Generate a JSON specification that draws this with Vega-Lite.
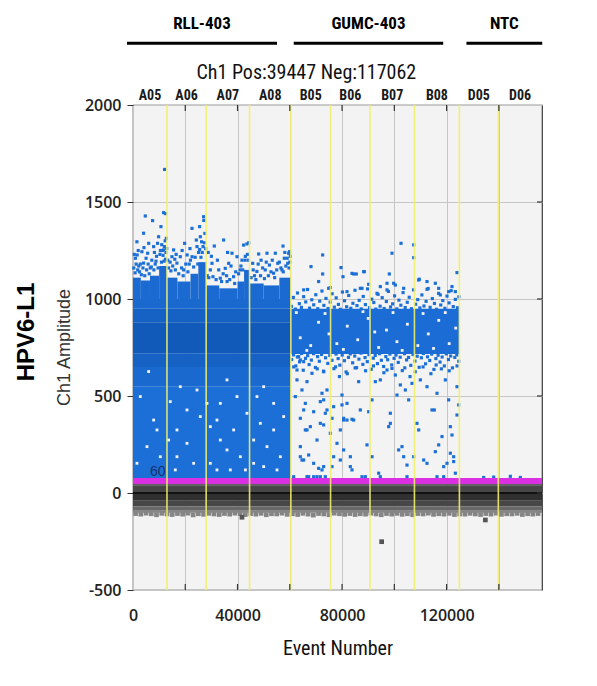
{
"$schema": "https://vega.github.io/schema/vega-lite/v6.json",
"width": 409, "height": 485,
"autosize": {"type": "none"},
"padding": {"left": 133, "top": 105, "right": 55, "bottom": 96},
"background": "white",
"config": {"view": {"fill": "#f3f3f3", "stroke": "#3a3a3a", "strokeWidth": 1.2}, "font": "Liberation Sans"},
"datasets": {
"wells": [
{"well": "A05", "start": 0, "end": 13000, "mid": 6500},
{"well": "A06", "start": 13000, "end": 28000, "mid": 20500},
{"well": "A07", "start": 28000, "end": 44600, "mid": 36300},
{"well": "A08", "start": 44600, "end": 60400, "mid": 52500},
{"well": "B05", "start": 60400, "end": 75600, "mid": 68000},
{"well": "B06", "start": 75600, "end": 90700, "mid": 83150},
{"well": "B07", "start": 90700, "end": 107700, "mid": 99200},
{"well": "B08", "start": 107700, "end": 124900, "mid": 116300},
{"well": "D05", "start": 124900, "end": 139800, "mid": 132350},
{"well": "D06", "start": 139800, "end": 156509, "mid": 148150}
],
"groups": [
{"group": "RLL-403", "start": -2300, "end": 55100, "mid": 26400},
{"group": "GUMC-403", "start": 61500, "end": 118700, "mid": 90100},
{"group": "NTC", "start": 127600, "end": 156600, "mid": 142100}
],
"xticks": [{"t": 20000}, {"t": 40000}, {"t": 60000}, {"t": 80000}, {"t": 100000}, {"t": 120000}, {"t": 140000}],
"yticks": [{"v": 0}, {"v": 500}, {"v": 1000}, {"v": 1500}],
"neg": [
{"y0": 40, "y1": 60, "tone": "n1"},
{"y0": 5, "y1": 40, "tone": "n2"},
{"y0": -40, "y1": -5, "tone": "n3"},
{"y0": -70, "y1": -40, "tone": "n4"},
{"y0": -92, "y1": -70, "tone": "n5"},
{"y0": -102, "y1": -92, "tone": "n6"},
{"y0": -5, "y1": 5, "tone": "n0"}
],
"bands": [
{"x0": 0, "x1": 60400, "y0": 60, "y1": 550, "tone": "lo"},
{"x0": 0, "x1": 60400, "y0": 550, "y1": 650, "tone": "t1"},
{"x0": 0, "x1": 60400, "y0": 650, "y1": 720, "tone": "t2"},
{"x0": 0, "x1": 60400, "y0": 720, "y1": 880, "tone": "dark"},
{"x0": 0, "x1": 60400, "y0": 880, "y1": 950, "tone": "t2"},
{"x0": 0, "x1": 60400, "y0": 950, "y1": 1000, "tone": "t1"},
{"x0": 0, "x1": 3000, "y0": 1000, "y1": 1110, "tone": "top"},
{"x0": 3000, "x1": 6500, "y0": 1000, "y1": 1095, "tone": "top"},
{"x0": 6500, "x1": 10000, "y0": 1000, "y1": 1120, "tone": "top"},
{"x0": 10000, "x1": 13000, "y0": 1000, "y1": 1170, "tone": "top"},
{"x0": 13000, "x1": 17000, "y0": 1000, "y1": 1110, "tone": "top"},
{"x0": 17000, "x1": 22000, "y0": 1000, "y1": 1090, "tone": "top"},
{"x0": 22000, "x1": 25000, "y0": 1000, "y1": 1130, "tone": "top"},
{"x0": 25000, "x1": 28000, "y0": 1000, "y1": 1190, "tone": "top"},
{"x0": 28000, "x1": 33000, "y0": 1000, "y1": 1070, "tone": "top"},
{"x0": 33000, "x1": 40000, "y0": 1000, "y1": 1055, "tone": "top"},
{"x0": 40000, "x1": 42500, "y0": 1000, "y1": 1090, "tone": "top"},
{"x0": 42500, "x1": 44600, "y0": 1000, "y1": 1150, "tone": "top"},
{"x0": 44600, "x1": 50000, "y0": 1000, "y1": 1080, "tone": "top"},
{"x0": 50000, "x1": 56000, "y0": 1000, "y1": 1070, "tone": "top"},
{"x0": 56000, "x1": 60400, "y0": 1000, "y1": 1110, "tone": "top"},
{"x0": 60400, "x1": 124900, "y0": 716, "y1": 950, "tone": "b"}
],
"gaps": [
{"ev": 5984, "amp": 626}, {"ev": 2795, "amp": 497}, {"ev": 14276, "amp": 471}, {"ev": 9174, "amp": 325}, {"ev": 13639, "amp": 273},
{"ev": 16828, "amp": 325}, {"ev": 20655, "amp": 256}, {"ev": 10450, "amp": 187}, {"ev": 16191, "amp": 119}, {"ev": 24484, "amp": 531},
{"ev": 25760, "amp": 394}, {"ev": 29587, "amp": 342}, {"ev": 32138, "amp": 376}, {"ev": 33414, "amp": 273}, {"ev": 35965, "amp": 222},
{"ev": 38516, "amp": 325}, {"ev": 41068, "amp": 187}, {"ev": 43619, "amp": 411}, {"ev": 46170, "amp": 273}, {"ev": 48722, "amp": 359},
{"ev": 51273, "amp": 239}, {"ev": 53824, "amp": 325}, {"ev": 56376, "amp": 187}, {"ev": 50000, "amp": 136}, {"ev": 29587, "amp": 153},
{"ev": 37238, "amp": 119}, {"ev": 1519, "amp": 153}, {"ev": 5347, "amp": 239}, {"ev": 23206, "amp": 153}, {"ev": 28310, "amp": 462},
{"ev": 39791, "amp": 497}, {"ev": 47446, "amp": 497}, {"ev": 53824, "amp": 462}, {"ev": 57652, "amp": 394}, {"ev": 20655, "amp": 428},
{"ev": 7900, "amp": 376}, {"ev": 16828, "amp": 187}, {"ev": 32138, "amp": 119}, {"ev": 43020, "amp": 119}, {"ev": 46170, "amp": 153},
{"ev": 55100, "amp": 119}, {"ev": 18100, "amp": 548}, {"ev": 35965, "amp": 583}, {"ev": 50000, "amp": 548}, {"ev": 33414, "amp": 462},
{"ev": 64000, "amp": 800}, {"ev": 68000, "amp": 760}, {"ev": 71000, "amp": 880}, {"ev": 75000, "amp": 820}, {"ev": 78000, "amp": 770},
{"ev": 82000, "amp": 860}, {"ev": 86000, "amp": 790}, {"ev": 90000, "amp": 900}, {"ev": 94000, "amp": 750}, {"ev": 97000, "amp": 840},
{"ev": 101000, "amp": 780}, {"ev": 105000, "amp": 870}, {"ev": 109000, "amp": 760}, {"ev": 113000, "amp": 820}, {"ev": 117000, "amp": 890},
{"ev": 121000, "amp": 770}, {"ev": 123500, "amp": 850}, {"ev": 62500, "amp": 930}, {"ev": 66500, "amp": 735}, {"ev": 73500, "amp": 925},
{"ev": 80500, "amp": 740}, {"ev": 88000, "amp": 935}, {"ev": 92500, "amp": 830}, {"ev": 99500, "amp": 930}, {"ev": 103000, "amp": 735},
{"ev": 111000, "amp": 925}, {"ev": 115000, "amp": 745}, {"ev": 119500, "amp": 930}
],
"pos": [
{"ev": 300, "amp": 1160}, {"ev": 900, "amp": 1210}, {"ev": 1500, "amp": 1295}, {"ev": 1600, "amp": 1227}, {"ev": 2200, "amp": 1170},
{"ev": 2800, "amp": 1180}, {"ev": 3400, "amp": 1244}, {"ev": 4050, "amp": 1339}, {"ev": 4050, "amp": 1185}, {"ev": 4700, "amp": 1428},
{"ev": 5200, "amp": 1150}, {"ev": 5600, "amp": 1236}, {"ev": 6000, "amp": 1287}, {"ev": 6600, "amp": 1160}, {"ev": 7200, "amp": 1200},
{"ev": 7500, "amp": 1404}, {"ev": 7900, "amp": 1270}, {"ev": 8500, "amp": 1180}, {"ev": 9000, "amp": 1220}, {"ev": 9400, "amp": 1287},
{"ev": 9800, "amp": 1321}, {"ev": 10300, "amp": 1230}, {"ev": 10700, "amp": 1373}, {"ev": 11200, "amp": 1250}, {"ev": 11700, "amp": 1445},
{"ev": 11700, "amp": 1253}, {"ev": 12080, "amp": 1668}, {"ev": 12300, "amp": 1300}, {"ev": 12500, "amp": 1440}, {"ev": 12750, "amp": 1313},
{"ev": 12600, "amp": 1240}, {"ev": 11000, "amp": 1280}, {"ev": 2500, "amp": 1140}, {"ev": 500, "amp": 1230},
{"ev": 800, "amp": 1135}, {"ev": 1800, "amp": 1150}, {"ev": 3200, "amp": 1125}, {"ev": 3800, "amp": 1160}, {"ev": 4500, "amp": 1120},
{"ev": 5800, "amp": 1180}, {"ev": 6200, "amp": 1130}, {"ev": 7000, "amp": 1165}, {"ev": 8000, "amp": 1150}, {"ev": 8800, "amp": 1195},
{"ev": 9600, "amp": 1160}, {"ev": 10500, "amp": 1250}, {"ev": 11500, "amp": 1225}, {"ev": 12000, "amp": 1270}, {"ev": 12900, "amp": 1260},
{"ev": 1200, "amp": 1180}, {"ev": 2000, "amp": 1250}, {"ev": 5000, "amp": 1210}, {"ev": 8200, "amp": 1240}, {"ev": 4200, "amp": 1265},
{"ev": 10900, "amp": 1190}, {"ev": 11900, "amp": 1195}, {"ev": 12400, "amp": 1205},
{"ev": 19750, "amp": 1287}, {"ev": 22580, "amp": 1364}, {"ev": 25490, "amp": 1373}, {"ev": 27020, "amp": 1424}, {"ev": 27100, "amp": 1405},
{"ev": 25760, "amp": 1321}, {"ev": 24230, "amp": 1304}, {"ev": 26250, "amp": 1295}, {"ev": 15540, "amp": 1253}, {"ev": 14900, "amp": 1218},
{"ev": 16800, "amp": 1185}, {"ev": 18100, "amp": 1218}, {"ev": 20700, "amp": 1227}, {"ev": 22600, "amp": 1218}, {"ev": 24500, "amp": 1270},
{"ev": 27500, "amp": 1338}, {"ev": 16200, "amp": 1150}, {"ev": 19400, "amp": 1150}, {"ev": 23200, "amp": 1165}, {"ev": 25100, "amp": 1240},
{"ev": 13600, "amp": 1160}, {"ev": 21500, "amp": 1180}, {"ev": 26800, "amp": 1270}, {"ev": 14200, "amp": 1190},
{"ev": 13300, "amp": 1200}, {"ev": 14500, "amp": 1145}, {"ev": 15200, "amp": 1170}, {"ev": 16000, "amp": 1205}, {"ev": 17500, "amp": 1130},
{"ev": 18600, "amp": 1160}, {"ev": 19200, "amp": 1120}, {"ev": 20200, "amp": 1180}, {"ev": 21000, "amp": 1140}, {"ev": 22000, "amp": 1200},
{"ev": 23800, "amp": 1215}, {"ev": 24800, "amp": 1180}, {"ev": 25500, "amp": 1255}, {"ev": 26500, "amp": 1240}, {"ev": 27300, "amp": 1290},
{"ev": 27800, "amp": 1260}, {"ev": 18800, "amp": 1250}, {"ev": 21800, "amp": 1260}, {"ev": 16500, "amp": 1230}, {"ev": 26000, "amp": 1215},
{"ev": 34680, "amp": 1304}, {"ev": 31110, "amp": 1273}, {"ev": 37890, "amp": 1236}, {"ev": 42330, "amp": 1278}, {"ev": 43600, "amp": 1284},
{"ev": 44300, "amp": 1290}, {"ev": 30230, "amp": 1184}, {"ev": 32800, "amp": 1150}, {"ev": 36600, "amp": 1184}, {"ev": 39800, "amp": 1218},
{"ev": 41700, "amp": 1200}, {"ev": 33400, "amp": 1107}, {"ev": 38500, "amp": 1115}, {"ev": 30600, "amp": 1115}, {"ev": 35300, "amp": 1158},
{"ev": 41000, "amp": 1150}, {"ev": 29000, "amp": 1110}, {"ev": 28800, "amp": 1240}, {"ev": 36000, "amp": 1090}, {"ev": 43000, "amp": 1220},
{"ev": 28400, "amp": 1120}, {"ev": 29600, "amp": 1150}, {"ev": 31800, "amp": 1100}, {"ev": 32300, "amp": 1200}, {"ev": 33900, "amp": 1090},
{"ev": 34500, "amp": 1130}, {"ev": 35800, "amp": 1120}, {"ev": 37000, "amp": 1100}, {"ev": 37500, "amp": 1170}, {"ev": 38900, "amp": 1080},
{"ev": 39300, "amp": 1140}, {"ev": 40400, "amp": 1130}, {"ev": 41300, "amp": 1170}, {"ev": 42000, "amp": 1150}, {"ev": 42900, "amp": 1200},
{"ev": 43800, "amp": 1230}, {"ev": 44200, "amp": 1200}, {"ev": 30000, "amp": 1220}, {"ev": 36200, "amp": 1240},
{"ev": 48080, "amp": 1232}, {"ev": 51270, "amp": 1236}, {"ev": 54460, "amp": 1236}, {"ev": 57400, "amp": 1273}, {"ev": 59570, "amp": 1236},
{"ev": 59900, "amp": 1244}, {"ev": 45800, "amp": 1184}, {"ev": 49000, "amp": 1200}, {"ev": 52200, "amp": 1175}, {"ev": 55400, "amp": 1184},
{"ev": 57900, "amp": 1210}, {"ev": 47400, "amp": 1142}, {"ev": 50600, "amp": 1150}, {"ev": 53800, "amp": 1133}, {"ev": 57000, "amp": 1150},
{"ev": 59200, "amp": 1184}, {"ev": 46500, "amp": 1120}, {"ev": 60000, "amp": 1190}, {"ev": 58500, "amp": 1170},
{"ev": 45200, "amp": 1110}, {"ev": 46000, "amp": 1150}, {"ev": 47000, "amp": 1100}, {"ev": 47900, "amp": 1180}, {"ev": 48800, "amp": 1120},
{"ev": 49600, "amp": 1160}, {"ev": 50300, "amp": 1105}, {"ev": 51000, "amp": 1190}, {"ev": 51800, "amp": 1120}, {"ev": 52800, "amp": 1140},
{"ev": 53300, "amp": 1200}, {"ev": 54200, "amp": 1110}, {"ev": 55000, "amp": 1150}, {"ev": 56000, "amp": 1190}, {"ev": 56600, "amp": 1160},
{"ev": 57500, "amp": 1140}, {"ev": 58100, "amp": 1240}, {"ev": 59000, "amp": 1210}, {"ev": 59700, "amp": 1160}, {"ev": 60200, "amp": 1220},
{"ev": 63388, "amp": 703}, {"ev": 65302, "amp": 677}, {"ev": 68491, "amp": 617}, {"ev": 62751, "amp": 583}, {"ev": 66578, "amp": 574},
{"ev": 64664, "amp": 531}, {"ev": 72318, "amp": 514}, {"ev": 74232, "amp": 531}, {"ev": 65940, "amp": 462}, {"ev": 69129, "amp": 419},
{"ev": 71680, "amp": 471}, {"ev": 73594, "amp": 411}, {"ev": 64026, "amp": 385}, {"ev": 67853, "amp": 342}, {"ev": 65940, "amp": 325},
{"ev": 72956, "amp": 351}, {"ev": 76783, "amp": 445}, {"ev": 79972, "amp": 505}, {"ev": 79972, "amp": 454}, {"ev": 76145, "amp": 385},
{"ev": 80610, "amp": 385}, {"ev": 81886, "amp": 376}, {"ev": 83799, "amp": 380}, {"ev": 86989, "amp": 428}, {"ev": 90178, "amp": 419},
{"ev": 86351, "amp": 574}, {"ev": 91454, "amp": 480}, {"ev": 92730, "amp": 574}, {"ev": 94643, "amp": 583}, {"ev": 97195, "amp": 634},
{"ev": 98470, "amp": 411}, {"ev": 97832, "amp": 342}, {"ev": 100384, "amp": 608}, {"ev": 101022, "amp": 505}, {"ev": 102297, "amp": 557},
{"ev": 102935, "amp": 239}, {"ev": 101659, "amp": 222}, {"ev": 104211, "amp": 531}, {"ev": 105487, "amp": 480}, {"ev": 106763, "amp": 565},
{"ev": 108676, "amp": 359}, {"ev": 109314, "amp": 325}, {"ev": 109952, "amp": 583}, {"ev": 112503, "amp": 548}, {"ev": 114417, "amp": 428},
{"ev": 115310, "amp": 428}, {"ev": 116330, "amp": 514}, {"ev": 118244, "amp": 291}, {"ev": 119520, "amp": 583}, {"ev": 120796, "amp": 480},
{"ev": 121433, "amp": 342}, {"ev": 121433, "amp": 205}, {"ev": 122071, "amp": 299}, {"ev": 122709, "amp": 187}, {"ev": 123985, "amp": 402},
{"ev": 124622, "amp": 454}, {"ev": 123985, "amp": 548}, {"ev": 64664, "amp": 170}, {"ev": 65302, "amp": 170}, {"ev": 67216, "amp": 196},
{"ev": 71043, "amp": 127}, {"ev": 72318, "amp": 119}, {"ev": 76145, "amp": 136}, {"ev": 76783, "amp": 187}, {"ev": 79334, "amp": 325},
{"ev": 83161, "amp": 136}, {"ev": 83799, "amp": 119}, {"ev": 89540, "amp": 248}, {"ev": 91454, "amp": 187}, {"ev": 94006, "amp": 102},
{"ev": 98470, "amp": 359}, {"ev": 103573, "amp": 187}, {"ev": 104849, "amp": 144}, {"ev": 107400, "amp": 187}, {"ev": 111227, "amp": 170},
{"ev": 112503, "amp": 153}, {"ev": 115692, "amp": 213}, {"ev": 116967, "amp": 248}, {"ev": 118881, "amp": 136}, {"ev": 120157, "amp": 153},
{"ev": 122709, "amp": 162}, {"ev": 123347, "amp": 102}, {"ev": 61475, "amp": 84}, {"ev": 66578, "amp": 84}, {"ev": 70405, "amp": 84},
{"ev": 87627, "amp": 84}, {"ev": 88902, "amp": 84}, {"ev": 94643, "amp": 84}, {"ev": 104849, "amp": 84}, {"ev": 116330, "amp": 84},
{"ev": 118881, "amp": 84}, {"ev": 65304, "amp": 428}, {"ev": 72958, "amp": 480}, {"ev": 74234, "amp": 428}, {"ev": 71683, "amp": 359},
{"ev": 66580, "amp": 325}, {"ev": 70406, "amp": 273}, {"ev": 64028, "amp": 239}, {"ev": 75510, "amp": 308}, {"ev": 78061, "amp": 256},
{"ev": 80612, "amp": 222}, {"ev": 79337, "amp": 170}, {"ev": 64028, "amp": 187}, {"ev": 69131, "amp": 153}, {"ev": 72958, "amp": 136},
{"ev": 83164, "amp": 187}, {"ev": 84440, "amp": 376}, {"ev": 80612, "amp": 376}, {"ev": 81888, "amp": 462}, {"ev": 62753, "amp": 634},
{"ev": 64028, "amp": 686}, {"ev": 62115, "amp": 497}, {"ev": 67218, "amp": 84}, {"ev": 69131, "amp": 84}, {"ev": 71683, "amp": 84},
{"ev": 73596, "amp": 84},
{"ev": 70500, "amp": 640}, {"ev": 73000, "amp": 625}, {"ev": 77500, "amp": 650}, {"ev": 82000, "amp": 615}, {"ev": 85000, "amp": 645},
{"ev": 89000, "amp": 630}, {"ev": 92000, "amp": 655}, {"ev": 96000, "amp": 620}, {"ev": 104000, "amp": 645}, {"ev": 108000, "amp": 625},
{"ev": 111000, "amp": 650}, {"ev": 114000, "amp": 615}, {"ev": 118000, "amp": 640}, {"ev": 121000, "amp": 630}, {"ev": 124000, "amp": 655},
{"ev": 61500, "amp": 650}, {"ev": 79000, "amp": 600}, {"ev": 99000, "amp": 660}, {"ev": 106000, "amp": 600}, {"ev": 116000, "amp": 660},
{"ev": 60700, "amp": 688}, {"ev": 61450, "amp": 712}, {"ev": 62300, "amp": 655}, {"ev": 62900, "amp": 701}, {"ev": 63750, "amp": 676},
{"ev": 64500, "amp": 719}, {"ev": 65150, "amp": 633}, {"ev": 66000, "amp": 694}, {"ev": 66850, "amp": 708}, {"ev": 67400, "amp": 662},
{"ev": 68250, "amp": 685}, {"ev": 69100, "amp": 718}, {"ev": 69800, "amp": 647}, {"ev": 70650, "amp": 703}, {"ev": 71300, "amp": 679},
{"ev": 72150, "amp": 714}, {"ev": 72900, "amp": 628}, {"ev": 73700, "amp": 697}, {"ev": 74550, "amp": 668}, {"ev": 75300, "amp": 709},
{"ev": 76150, "amp": 684}, {"ev": 76900, "amp": 641}, {"ev": 77700, "amp": 716}, {"ev": 78500, "amp": 693}, {"ev": 79150, "amp": 659},
{"ev": 80050, "amp": 711}, {"ev": 80900, "amp": 682}, {"ev": 81550, "amp": 624}, {"ev": 82450, "amp": 699}, {"ev": 83150, "amp": 717},
{"ev": 84050, "amp": 671}, {"ev": 84850, "amp": 706}, {"ev": 85550, "amp": 646}, {"ev": 86450, "amp": 690}, {"ev": 87250, "amp": 721},
{"ev": 87950, "amp": 663}, {"ev": 88800, "amp": 698}, {"ev": 89650, "amp": 677}, {"ev": 90300, "amp": 713}, {"ev": 91150, "amp": 638},
{"ev": 91950, "amp": 695}, {"ev": 92700, "amp": 709}, {"ev": 93550, "amp": 667}, {"ev": 94350, "amp": 718}, {"ev": 95050, "amp": 684},
{"ev": 95900, "amp": 652}, {"ev": 96750, "amp": 703}, {"ev": 97450, "amp": 687}, {"ev": 98300, "amp": 716}, {"ev": 99100, "amp": 642},
{"ev": 99900, "amp": 694}, {"ev": 100650, "amp": 711}, {"ev": 101500, "amp": 673}, {"ev": 102250, "amp": 700}, {"ev": 103050, "amp": 631},
{"ev": 103900, "amp": 718}, {"ev": 104700, "amp": 686}, {"ev": 105450, "amp": 699}, {"ev": 106300, "amp": 658}, {"ev": 107150, "amp": 714},
{"ev": 107900, "amp": 680}, {"ev": 108750, "amp": 705}, {"ev": 109500, "amp": 648}, {"ev": 110350, "amp": 697}, {"ev": 111100, "amp": 719},
{"ev": 111950, "amp": 666}, {"ev": 112700, "amp": 702}, {"ev": 113550, "amp": 683}, {"ev": 114300, "amp": 716}, {"ev": 115150, "amp": 637},
{"ev": 115900, "amp": 693}, {"ev": 116750, "amp": 710}, {"ev": 117500, "amp": 675}, {"ev": 118300, "amp": 701}, {"ev": 119150, "amp": 655},
{"ev": 119900, "amp": 717}, {"ev": 120700, "amp": 688}, {"ev": 121550, "amp": 706}, {"ev": 122250, "amp": 645}, {"ev": 123150, "amp": 699},
{"ev": 123900, "amp": 712}, {"ev": 124650, "amp": 679},
{"ev": 60600, "amp": 962}, {"ev": 61350, "amp": 1008}, {"ev": 62150, "amp": 948}, {"ev": 62950, "amp": 1031}, {"ev": 63650, "amp": 976},
{"ev": 64450, "amp": 957}, {"ev": 65300, "amp": 1012}, {"ev": 66100, "amp": 985}, {"ev": 66800, "amp": 1049}, {"ev": 67550, "amp": 953},
{"ev": 68400, "amp": 996}, {"ev": 69150, "amp": 970}, {"ev": 69950, "amp": 1022}, {"ev": 70700, "amp": 950}, {"ev": 71450, "amp": 989},
{"ev": 72300, "amp": 1041}, {"ev": 73050, "amp": 967}, {"ev": 73850, "amp": 1003}, {"ev": 74650, "amp": 951}, {"ev": 75450, "amp": 984},
{"ev": 76200, "amp": 1027}, {"ev": 77050, "amp": 958}, {"ev": 77750, "amp": 1006}, {"ev": 78600, "amp": 972}, {"ev": 79350, "amp": 947},
{"ev": 80150, "amp": 1036}, {"ev": 80950, "amp": 991}, {"ev": 81750, "amp": 960}, {"ev": 82550, "amp": 1018}, {"ev": 83350, "amp": 952},
{"ev": 84150, "amp": 978}, {"ev": 84950, "amp": 1045}, {"ev": 85700, "amp": 966}, {"ev": 86550, "amp": 993}, {"ev": 87350, "amp": 949},
{"ev": 88100, "amp": 1013}, {"ev": 88950, "amp": 971}, {"ev": 89750, "amp": 1052}, {"ev": 90500, "amp": 955}, {"ev": 91350, "amp": 999},
{"ev": 92150, "amp": 982}, {"ev": 92900, "amp": 948}, {"ev": 93750, "amp": 1024}, {"ev": 94550, "amp": 963}, {"ev": 95350, "amp": 1007},
{"ev": 96100, "amp": 951}, {"ev": 96950, "amp": 987}, {"ev": 97750, "amp": 1039}, {"ev": 98550, "amp": 959}, {"ev": 99350, "amp": 975},
{"ev": 100100, "amp": 1016}, {"ev": 100950, "amp": 949}, {"ev": 101750, "amp": 994}, {"ev": 102500, "amp": 968}, {"ev": 103350, "amp": 1033},
{"ev": 104150, "amp": 956}, {"ev": 104950, "amp": 983}, {"ev": 105700, "amp": 1009}, {"ev": 106550, "amp": 950}, {"ev": 107350, "amp": 1047},
{"ev": 108150, "amp": 973}, {"ev": 108950, "amp": 997}, {"ev": 109750, "amp": 954}, {"ev": 110550, "amp": 1021}, {"ev": 111350, "amp": 964},
{"ev": 112150, "amp": 988}, {"ev": 112950, "amp": 1054}, {"ev": 113700, "amp": 957}, {"ev": 114550, "amp": 1002}, {"ev": 115350, "amp": 977},
{"ev": 116150, "amp": 947}, {"ev": 116950, "amp": 1029}, {"ev": 117750, "amp": 969}, {"ev": 118550, "amp": 992}, {"ev": 119350, "amp": 952},
{"ev": 120150, "amp": 1015}, {"ev": 120950, "amp": 980}, {"ev": 121750, "amp": 1043}, {"ev": 122550, "amp": 961}, {"ev": 123350, "amp": 998},
{"ev": 124150, "amp": 955}, {"ev": 124700, "amp": 1011},
{"ev": 102554, "amp": 1287}, {"ev": 107400, "amp": 1279}, {"ev": 107400, "amp": 1213}, {"ev": 99108, "amp": 1236}, {"ev": 72573, "amp": 1227},
{"ev": 68109, "amp": 1167}, {"ev": 79590, "amp": 1162}, {"ev": 80356, "amp": 1115}, {"ev": 84438, "amp": 1129}, {"ev": 85459, "amp": 1129},
{"ev": 88520, "amp": 1141}, {"ev": 90178, "amp": 1076}, {"ev": 98087, "amp": 1129}, {"ev": 99746, "amp": 1081}, {"ev": 100384, "amp": 1072},
{"ev": 103573, "amp": 1055}, {"ev": 109569, "amp": 1102}, {"ev": 115692, "amp": 1081}, {"ev": 116968, "amp": 1055}, {"ev": 123985, "amp": 1136},
{"ev": 71043, "amp": 1090}, {"ev": 72573, "amp": 1129}, {"ev": 65302, "amp": 1047}, {"ev": 75508, "amp": 1059}, {"ev": 87627, "amp": 1055},
{"ev": 94643, "amp": 1064}, {"ev": 97195, "amp": 1047}, {"ev": 112503, "amp": 1050}, {"ev": 122071, "amp": 1064}, {"ev": 120796, "amp": 1038},
{"ev": 88265, "amp": 1141}, {"ev": 83800, "amp": 1132}, {"ev": 109314, "amp": 1098}, {"ev": 112503, "amp": 1090}, {"ev": 123347, "amp": 1038},
{"ev": 117605, "amp": 1021}, {"ev": 93367, "amp": 1029}, {"ev": 81886, "amp": 1038}, {"ev": 74870, "amp": 1055}, {"ev": 86989, "amp": 1055},
{"ev": 97195, "amp": 1081}, {"ev": 59816, "amp": 1236},
{"ev": 134190, "amp": 80}, {"ev": 138020, "amp": 82}, {"ev": 144400, "amp": 86}, {"ev": 148225, "amp": 80}
],
"negpts": [
{"ev": 1000, "amp": -106, "kind": "edge"}, {"ev": 3000, "amp": -109, "kind": "edge"}, {"ev": 5000, "amp": -104, "kind": "edge"},
{"ev": 7000, "amp": -107, "kind": "edge"}, {"ev": 9000, "amp": -112, "kind": "edge"}, {"ev": 11000, "amp": -105, "kind": "edge"},
{"ev": 13000, "amp": -108, "kind": "edge"}, {"ev": 15000, "amp": -111, "kind": "edge"}, {"ev": 17000, "amp": -106, "kind": "edge"},
{"ev": 19000, "amp": -109, "kind": "edge"}, {"ev": 21000, "amp": -104, "kind": "edge"}, {"ev": 23000, "amp": -113, "kind": "edge"},
{"ev": 25000, "amp": -107, "kind": "edge"}, {"ev": 27000, "amp": -110, "kind": "edge"}, {"ev": 29000, "amp": -105, "kind": "edge"},
{"ev": 31000, "amp": -108, "kind": "edge"}, {"ev": 33000, "amp": -111, "kind": "edge"}, {"ev": 35000, "amp": -106, "kind": "edge"},
{"ev": 37000, "amp": -109, "kind": "edge"}, {"ev": 39000, "amp": -104, "kind": "edge"}, {"ev": 41000, "amp": -107, "kind": "edge"},
{"ev": 43000, "amp": -111, "kind": "edge"}, {"ev": 45000, "amp": -106, "kind": "edge"}, {"ev": 47000, "amp": -109, "kind": "edge"},
{"ev": 49000, "amp": -105, "kind": "edge"}, {"ev": 51000, "amp": -112, "kind": "edge"}, {"ev": 53000, "amp": -107, "kind": "edge"},
{"ev": 55000, "amp": -108, "kind": "edge"}, {"ev": 57000, "amp": -104, "kind": "edge"}, {"ev": 59000, "amp": -110, "kind": "edge"},
{"ev": 61000, "amp": -107, "kind": "edge"}, {"ev": 63000, "amp": -111, "kind": "edge"}, {"ev": 65000, "amp": -105, "kind": "edge"},
{"ev": 67000, "amp": -109, "kind": "edge"}, {"ev": 69000, "amp": -114, "kind": "edge"}, {"ev": 71000, "amp": -106, "kind": "edge"},
{"ev": 73000, "amp": -108, "kind": "edge"}, {"ev": 75000, "amp": -112, "kind": "edge"}, {"ev": 77000, "amp": -104, "kind": "edge"},
{"ev": 79000, "amp": -107, "kind": "edge"}, {"ev": 81000, "amp": -110, "kind": "edge"}, {"ev": 83000, "amp": -106, "kind": "edge"},
{"ev": 85000, "amp": -111, "kind": "edge"}, {"ev": 87000, "amp": -107, "kind": "edge"}, {"ev": 89000, "amp": -109, "kind": "edge"},
{"ev": 91000, "amp": -104, "kind": "edge"}, {"ev": 93000, "amp": -108, "kind": "edge"}, {"ev": 95000, "amp": -112, "kind": "edge"},
{"ev": 97000, "amp": -106, "kind": "edge"}, {"ev": 99000, "amp": -109, "kind": "edge"}, {"ev": 101000, "amp": -105, "kind": "edge"},
{"ev": 103000, "amp": -110, "kind": "edge"}, {"ev": 105000, "amp": -107, "kind": "edge"}, {"ev": 107000, "amp": -112, "kind": "edge"},
{"ev": 109000, "amp": -106, "kind": "edge"}, {"ev": 111000, "amp": -108, "kind": "edge"}, {"ev": 113000, "amp": -104, "kind": "edge"},
{"ev": 115000, "amp": -110, "kind": "edge"}, {"ev": 117000, "amp": -107, "kind": "edge"}, {"ev": 119000, "amp": -109, "kind": "edge"},
{"ev": 121000, "amp": -105, "kind": "edge"}, {"ev": 123000, "amp": -111, "kind": "edge"}, {"ev": 125000, "amp": -108, "kind": "edge"},
{"ev": 127000, "amp": -109, "kind": "edge"}, {"ev": 129000, "amp": -105, "kind": "edge"}, {"ev": 131000, "amp": -108, "kind": "edge"},
{"ev": 133000, "amp": -111, "kind": "edge"}, {"ev": 135000, "amp": -106, "kind": "edge"}, {"ev": 137000, "amp": -109, "kind": "edge"},
{"ev": 139000, "amp": -104, "kind": "edge"}, {"ev": 141000, "amp": -110, "kind": "edge"}, {"ev": 143000, "amp": -107, "kind": "edge"},
{"ev": 145000, "amp": -108, "kind": "edge"}, {"ev": 147000, "amp": -105, "kind": "edge"}, {"ev": 149000, "amp": -111, "kind": "edge"},
{"ev": 151000, "amp": -107, "kind": "edge"}, {"ev": 153000, "amp": -109, "kind": "edge"}, {"ev": 155000, "amp": -106, "kind": "edge"},
{"ev": 41710, "amp": -125, "kind": "out"}, {"ev": 95150, "amp": -251, "kind": "out"}, {"ev": 134830, "amp": -139, "kind": "out"}
]
},
"layer": [
{
"data": {"name": "neg"},
"mark": {"type": "rect"},
"encoding": {
"x": {"datum": 0, "type": "quantitative",
"scale": {"domain": [0, 156509], "nice": false, "zero": false},
"axis": {"orient": "bottom", "values": [0, 20000, 40000, 60000, 80000, 100000, 120000, 140000], "format": "d",
"labelExpr": "datum.value % 40000 === 0 ? '' + datum.value : ''", "labelOverlap": false, "labelFlush": false,
"grid": true, "gridColor": "#c6c6c6", "gridWidth": 1, "ticks": false, "domain": false,
"labelFont": "Open Sans", "labelFontSize": 16, "labelFontWeight": 600, "labelColor": "#222222",
"labelBaseline": "middle", "labelPadding": 25,
"title": "Event Number", "titleFont": "Roboto Condensed, DejaVu Sans Condensed, Liberation Sans", "titleFontSize": 20, "titleFontWeight": "normal",
"titleColor": "#111111", "titleY": 58, "titleBaseline": "middle"}},
"x2": {"datum": 156509},
"y": {"field": "y0", "type": "quantitative",
"scale": {"domain": [-500, 2000], "nice": false, "zero": false},
"axis": {"values": [-500, 0, 500, 1000, 1500, 2000],
"labelExpr": "datum.value < 0 ? '-' + abs(datum.value) : '' + datum.value",
"grid": true, "gridColor": "#c6c6c6", "gridWidth": 1,
"tickSize": 6, "tickColor": "#333333", "domain": false,
"labelFont": "Open Sans", "labelFontSize": 16, "labelFontWeight": 600, "labelColor": "#222222", "labelPadding": 6,
"title": "Ch1 Amplitude", "titleFont": "Liberation Sans", "titleFontSize": 18, "titleFontWeight": "normal",
"titleColor": "#333333", "titleX": -69, "titleY": 242, "titleAngle": 270, "titleBaseline": "middle", "titleAlign": "center"}},
"y2": {"field": "y1"},
"color": {"field": "tone", "type": "nominal", "legend": null,
"scale": {"domain": ["lo", "t1", "t2", "dark", "top", "b", "n0", "n1", "n2", "n3", "n4", "n5", "n6"],
"range": ["#1c6fd7", "#1969cf", "#1561c4", "#115ab9", "#1a6ad1", "#1b6cd4", "#111111", "#5e5e5e", "#474747", "#303030", "#474747", "#686868", "#858585"]}}
}
},
{
"data": {"name": "bands"},
"mark": {"type": "rect"},
"encoding": {
"x": {"field": "x0", "type": "quantitative"},
"x2": {"field": "x1"},
"y": {"field": "y0", "type": "quantitative"},
"y2": {"field": "y1"},
"color": {"field": "tone", "type": "nominal", "legend": null}
}
},
{
"data": {"name": "gaps"},
"mark": {"type": "point", "shape": "square", "filled": true, "size": 8, "color": "#f0f2f5", "opacity": 1},
"encoding": {"x": {"field": "ev", "type": "quantitative"}, "y": {"field": "amp", "type": "quantitative"}}
},
{
"data": {"name": "pos"},
"mark": {"type": "point", "shape": "square", "filled": true, "size": 10, "color": "#1b6fd6", "opacity": 1},
"encoding": {"x": {"field": "ev", "type": "quantitative"}, "y": {"field": "amp", "type": "quantitative"}}
},
{
"data": {"name": "negpts"},
"mark": {"type": "point", "shape": "square", "filled": true, "size": 22, "opacity": 1},
"encoding": {"x": {"field": "ev", "type": "quantitative"}, "y": {"field": "amp", "type": "quantitative"},
"fill": {"field": "kind", "type": "nominal", "legend": null, "scale": {"domain": ["edge", "out"], "range": ["#858585", "#555555"]}}}
},
{
"data": {"values": [{}]},
"mark": {"type": "rule", "color": "#da2fe3", "strokeWidth": 6},
"encoding": {"x": {"datum": 0}, "x2": {"datum": 156509}, "y": {"datum": 62}}
},
{
"data": {"name": "wells"},
"transform": [{"filter": "datum.start > 0"}],
"mark": {"type": "rule", "color": "#f2ee6a", "strokeWidth": 1.6, "opacity": 0.9},
"encoding": {"x": {"field": "start", "type": "quantitative"}}
},
{
"data": {"name": "xticks"},
"mark": {"type": "rule", "color": "#333333", "strokeWidth": 1.2},
"encoding": {"x": {"field": "t", "type": "quantitative"}, "y": {"datum": -500}, "y2": {"datum": -469}}
},
{
"data": {"name": "xticks"},
"mark": {"type": "rule", "color": "#333333", "strokeWidth": 1.2},
"encoding": {"x": {"field": "t", "type": "quantitative"}, "y": {"datum": 2000}, "y2": {"datum": 1969}}
},
{
"data": {"name": "yticks"},
"mark": {"type": "rule", "color": "#333333", "strokeWidth": 1.2},
"encoding": {"y": {"field": "v", "type": "quantitative"}, "x": {"datum": 154600}, "x2": {"datum": 156509}}
},
{
"data": {"name": "wells"},
"mark": {"type": "text", "font": "Roboto Condensed, DejaVu Sans Condensed, Liberation Sans", "fontSize": 14, "fontWeight": "bold", "color": "#1a1a1a", "baseline": "middle", "dy": -9},
"encoding": {"x": {"field": "mid", "type": "quantitative"}, "y": {"datum": 2000}, "text": {"field": "well"}}
},
{
"data": {"name": "groups"},
"mark": {"type": "rule", "color": "#000000", "strokeWidth": 3},
"encoding": {"x": {"field": "start", "type": "quantitative"}, "x2": {"field": "end"}, "y": {"datum": 2318}}
},
{
"data": {"name": "groups"},
"mark": {"type": "text", "font": "Roboto Condensed, DejaVu Sans Condensed, Liberation Sans", "fontSize": 17, "fontWeight": "bold", "color": "#000000", "baseline": "middle"},
"encoding": {"x": {"field": "mid", "type": "quantitative"}, "y": {"datum": 2420}, "text": {"field": "group"}}
},
{
"data": {"values": [{}]},
"mark": {"type": "text", "font": "Roboto Condensed, DejaVu Sans Condensed, Liberation Sans", "fontSize": 20, "color": "#111111", "baseline": "middle"},
"encoding": {"x": {"datum": 66320}, "y": {"datum": 2165}, "text": {"value": "Ch1 Pos:39447 Neg:117062"}}
},
{
"data": {"values": [{}]},
"mark": {"type": "text", "font": "Liberation Sans", "fontSize": 24, "fontWeight": "bold", "color": "#000000", "baseline": "middle", "angle": 270},
"encoding": {"x": {"datum": -40500}, "y": {"datum": 830}, "text": {"value": "HPV6-L1"}}
},
{
"data": {"values": [{}]},
"mark": {"type": "text", "font": "Liberation Sans", "fontSize": 14, "color": "#1a2f6e", "baseline": "middle"},
"encoding": {"x": {"datum": 9500}, "y": {"datum": 108}, "text": {"value": "60"}}
}
]
}
